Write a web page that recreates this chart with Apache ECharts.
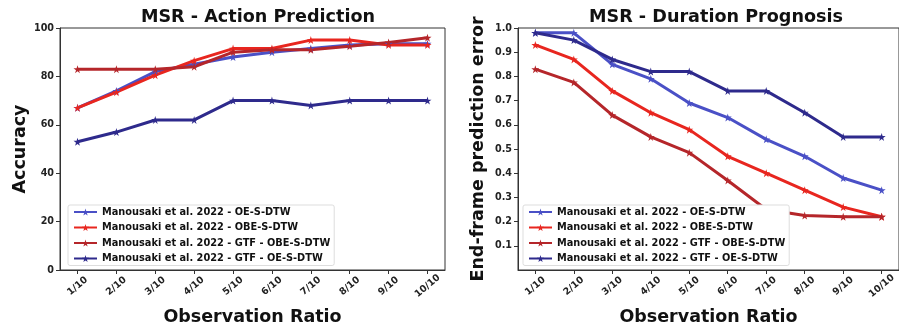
<!DOCTYPE html>
<html>
<head>
<meta charset="utf-8">
<script src="https://cdn.jsdelivr.net/npm/echarts@6/dist/echarts.min.js"></script>
<style>
  html, body { margin: 0; padding: 0; background: #fff; }
  #chart { width: 899px; height: 331px; }
</style>
</head>
<body>
<div id="chart"></div>
<script>
// Observation ratios shared by both panels
const tickLabels = ['1/10', '2/10', '3/10', '4/10', '5/10', '6/10', '7/10', '8/10', '9/10', '10/10'];

const seriesNames = [
  'Manousaki et al. 2022 - OE-S-DTW',
  'Manousaki et al. 2022 - OBE-S-DTW',
  'Manousaki et al. 2022 - GTF - OBE-S-DTW',
  'Manousaki et al. 2022 - GTF - OE-S-DTW'
];

// Action prediction accuracy (%)
const accOE      = [67, 74, 82, 85, 88, 90, 91.5, 93, 93.5, 93.5];
const accOBE     = [67, 73.5, 80.5, 86.5, 91.5, 91.5, 95, 95, 93, 93];
const accGtfOBE  = [83, 83, 83, 84, 90, 91, 91, 92.5, 94, 96];
const accGtfOE   = [53, 57, 62, 62, 70, 70, 68, 70, 70, 70];

// End-frame prediction error
const errOE      = [0.98, 0.98, 0.85, 0.79, 0.69, 0.63, 0.54, 0.47, 0.38, 0.33];
const errOBE     = [0.93, 0.87, 0.74, 0.65, 0.58, 0.47, 0.40, 0.33, 0.26, 0.22];
const errGtfOBE  = [0.83, 0.775, 0.64, 0.55, 0.485, 0.37, 0.25, 0.225, 0.22, 0.22];
const errGtfOE   = [0.98, 0.95, 0.87, 0.82, 0.82, 0.74, 0.74, 0.65, 0.55, 0.55];

const colors = ['#4a50c6', '#e8261f', '#b5262a', '#2e2a8c'];

const STAR = 'path://M50,0 L61,35 L98,35 L68,57 L79,91 L50,70 L21,91 L32,57 L2,35 L39,35 Z';
const FONT = 'DejaVu Sans';
const positions = tickLabels.map((_, i) => i + 1);

function toPoints(values) {
  return values.map((v, i) => [i + 1, v]);
}

function makeSeries(values, idx, axisIdx) {
  return {
    name: seriesNames[idx],
    type: 'line',
    xAxisIndex: axisIdx,
    yAxisIndex: axisIdx,
    data: toPoints(values),
    symbol: STAR,
    symbolSize: 8,
    showSymbol: true,
    animation: false,
    lineStyle: { width: 3, color: colors[idx] },
    itemStyle: { color: colors[idx] },
    emphasis: { disabled: true }
  };
}

function xAxis(gridIndex) {
  return {
    type: 'value',
    gridIndex: gridIndex,
    min: 0.55,
    max: 10.45,
    name: 'Observation Ratio',
    nameLocation: 'middle',
    nameGap: 38,
    nameTextStyle: { fontFamily: FONT, fontWeight: 'bold', fontSize: 17.5, color: '#111' },
    axisLine: { lineStyle: { color: '#333', width: 1 } },
    axisTick: { show: true, length: 4, customValues: positions, lineStyle: { color: '#333' } },
    axisLabel: {
      customValues: positions,
      formatter: v => tickLabels[Math.round(v) - 1] || '',
      rotate: 40,
      align: 'center',
      verticalAlign: 'middle',
      margin: 16,
      fontFamily: FONT,
      fontWeight: 'bold',
      fontSize: 9.5,
      color: '#222'
    },
    splitLine: { show: false }
  };
}

function legend(left) {
  return {
    data: seriesNames,
    orient: 'vertical',
    left: left,
    top: 205,
    itemWidth: 23,
    itemHeight: 9,
    itemGap: 5.5,
    padding: [2, 4, 2, 5],
    backgroundColor: '#fff',
    borderColor: '#ddd',
    borderWidth: 1,
    borderRadius: 2,
    textStyle: { fontFamily: FONT, fontWeight: 'bold', fontSize: 9.8, color: '#111' },
    selectedMode: false
  };
}

const chart = echarts.init(document.getElementById('chart'), null, { renderer: 'canvas' });

chart.setOption({
  backgroundColor: '#fff',
  animation: false,
  title: [
    {
      text: 'MSR - Action Prediction',
      left: 253, top: 3, textAlign: 'center',
      textStyle: { fontFamily: FONT, fontWeight: 'bold', fontSize: 17.6, color: '#111' }
    },
    {
      text: 'MSR - Duration Prognosis',
      left: 711, top: 3, textAlign: 'center',
      textStyle: { fontFamily: FONT, fontWeight: 'bold', fontSize: 17.6, color: '#111' }
    }
  ],
  legend: [
    Object.assign(legend(68), { id: 'l0' }),
    Object.assign(legend(523), { id: 'l1' })
  ],
  grid: [
    { left: 60, right: 454, top: 28, bottom: 60, show: true, borderColor: '#333', borderWidth: 1, backgroundColor: 'transparent' },
    { left: 518, right: -5, top: 28, bottom: 60, show: true, borderColor: '#333', borderWidth: 1, backgroundColor: 'transparent' }
  ],
  xAxis: [xAxis(0), xAxis(1)],
  yAxis: [
    {
      type: 'value',
      gridIndex: 0,
      min: 0, max: 100, interval: 20,
      name: 'Accuracy',
      nameLocation: 'middle',
      nameGap: 31,
      nameTextStyle: { fontFamily: FONT, fontWeight: 'bold', fontSize: 17.5, color: '#111' },
      axisLine: { show: true, lineStyle: { color: '#333' } },
      axisTick: { show: true, length: 4, lineStyle: { color: '#333' } },
      axisLabel: { fontFamily: FONT, fontWeight: 'bold', fontSize: 9.6, color: '#222', margin: 6 },
      splitLine: { show: false }
    },
    {
      type: 'value',
      gridIndex: 1,
      min: 0, max: 1.0, interval: 0.1,
      name: 'End-frame prediction error',
      nameLocation: 'middle',
      nameGap: 31,
      nameTextStyle: { fontFamily: FONT, fontWeight: 'bold', fontSize: 17.5, color: '#111' },
      axisLine: { show: true, lineStyle: { color: '#333' } },
      axisTick: { show: true, length: 4, lineStyle: { color: '#333' } },
      axisLabel: {
        showMinLabel: false,
        formatter: v => v.toFixed(1),
        fontFamily: FONT, fontWeight: 'bold', fontSize: 9.6, color: '#222', margin: 6
      },
      splitLine: { show: false }
    }
  ],
  series: [
    makeSeries(accOE, 0, 0),
    makeSeries(accOBE, 1, 0),
    makeSeries(accGtfOBE, 2, 0),
    makeSeries(accGtfOE, 3, 0),
    makeSeries(errOE, 0, 1),
    makeSeries(errOBE, 1, 1),
    makeSeries(errGtfOBE, 2, 1),
    makeSeries(errGtfOE, 3, 1)
  ]
});
</script>
</body>
</html>
